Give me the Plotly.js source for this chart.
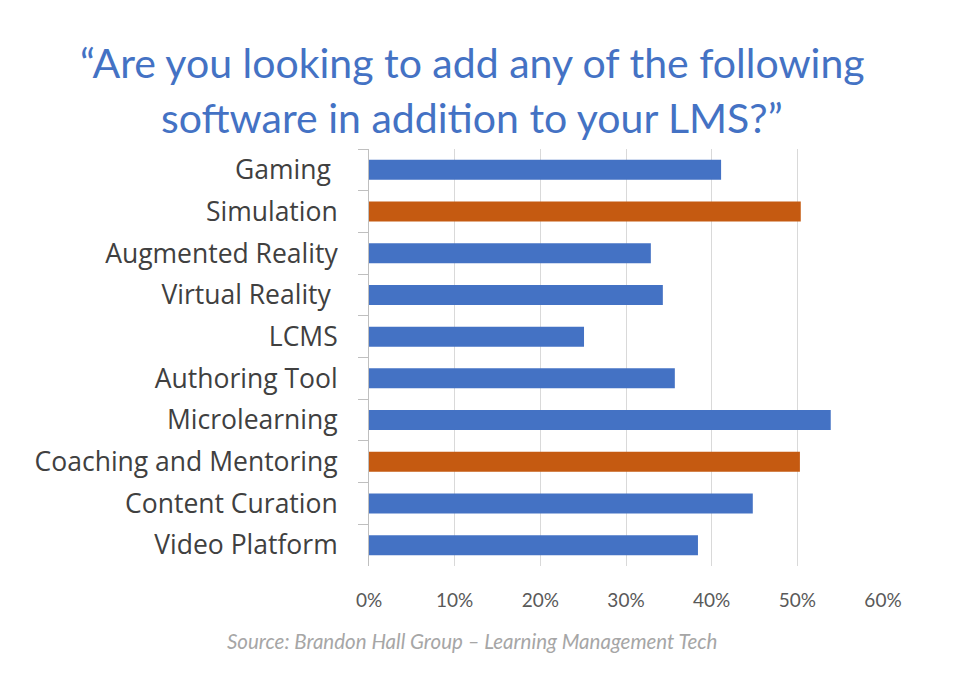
<!DOCTYPE html>
<html>
<head>
<meta charset="utf-8">
<script src="https://cdn.plot.ly/plotly-3.0.1.min.js"></script>
<style>html,body{margin:0;padding:0;background:#fff;}#chart{width:960px;height:685px;}</style>
</head>
<body>
<div id="chart"></div>
<script>
const categories = ["Gaming ", "Simulation", "Augmented Reality", "Virtual Reality ", "LCMS", "Authoring Tool", "Microlearning", "Coaching and Mentoring", "Content Curation", "Video Platform"];
const values = [0.411, 0.504, 0.329, 0.343, 0.251, 0.357, 0.539, 0.503, 0.448, 0.384];
const highlighted = ["Simulation", "Coaching and Mentoring"];
const xTickValues = [0, 0.1, 0.2, 0.3, 0.4, 0.5, 0.6];
const xTickLabels = ["0%", "10%", "20%", "30%", "40%", "50%", "60%"];
const titleLines = ["\u201CAre you looking to add any of the following", "software in addition to your LMS?\u201D"];
const sourceText = "Source: Brandon Hall Group \u2013 Learning Management Tech";

const BLUE = "#4472C4", ORANGE = "#C55A11";
const colors = categories.map(c => highlighted.includes(c) ? ORANGE : BLUE);

const M = {l: 369, r: 77, t: 149, b: 119};
const W = 960, H = 685;
const plotW = W - M.l - M.r, plotH = H - M.t - M.b;
const px = x => (x - M.l) / plotW;
const py = y => (H - M.b - y) / plotH;

const trace = {
  type: "bar",
  orientation: "h",
  y: categories,
  x: values,
  width: 0.48,
  marker: {color: colors, line: {width: 0}},
  hoverinfo: "x+y"
};

const layout = {
  width: W, height: H,
  paper_bgcolor: "#fff", plot_bgcolor: "#fff",
  margin: M,
  showlegend: false,
  xaxis: {
    range: [0, 0.6],
    tickvals: xTickValues, ticktext: xTickLabels,
    showgrid: true, gridcolor: "#d9d9d9", gridwidth: 1,
    zeroline: false, showline: false,
    ticks: "", ticklabelstandoff: 21,
    tickfont: {family: "Lato, sans-serif", size: 19, color: "#595959"},
    fixedrange: true
  },
  yaxis: {
    type: "category",
    autorange: "reversed",
    showgrid: false, zeroline: false,
    showline: true, linecolor: "#bfbfbf", linewidth: 1,
    ticks: "outside", tickson: "boundaries", ticklen: 10, tickcolor: "#bfbfbf",
    ticklabelstandoff: 25,
    tickfont: {family: "\"Open Sans\", sans-serif", size: 26.5, color: "#404040"},
    fixedrange: true
  },
  annotations: [
    {text: titleLines[0], xref: "paper", yref: "paper", x: px(472), y: py(63), xanchor: "center", yanchor: "middle", showarrow: false,
     font: {family: "Lato, sans-serif", size: 41, color: BLUE}},
    {text: titleLines[1], xref: "paper", yref: "paper", x: px(472), y: py(117), xanchor: "center", yanchor: "middle", showarrow: false,
     font: {family: "Lato, sans-serif", size: 41, color: BLUE}},
    {text: "<i>" + sourceText + "</i>", xref: "paper", yref: "paper", x: px(472), y: py(641), xanchor: "center", yanchor: "middle", showarrow: false,
     font: {family: "Lato, sans-serif", size: 20.5, color: "#a6a6a6"}}
  ]
};

Plotly.newPlot("chart", [trace], layout, {displayModeBar: false, staticPlot: true});
</script>
</body>
</html>
